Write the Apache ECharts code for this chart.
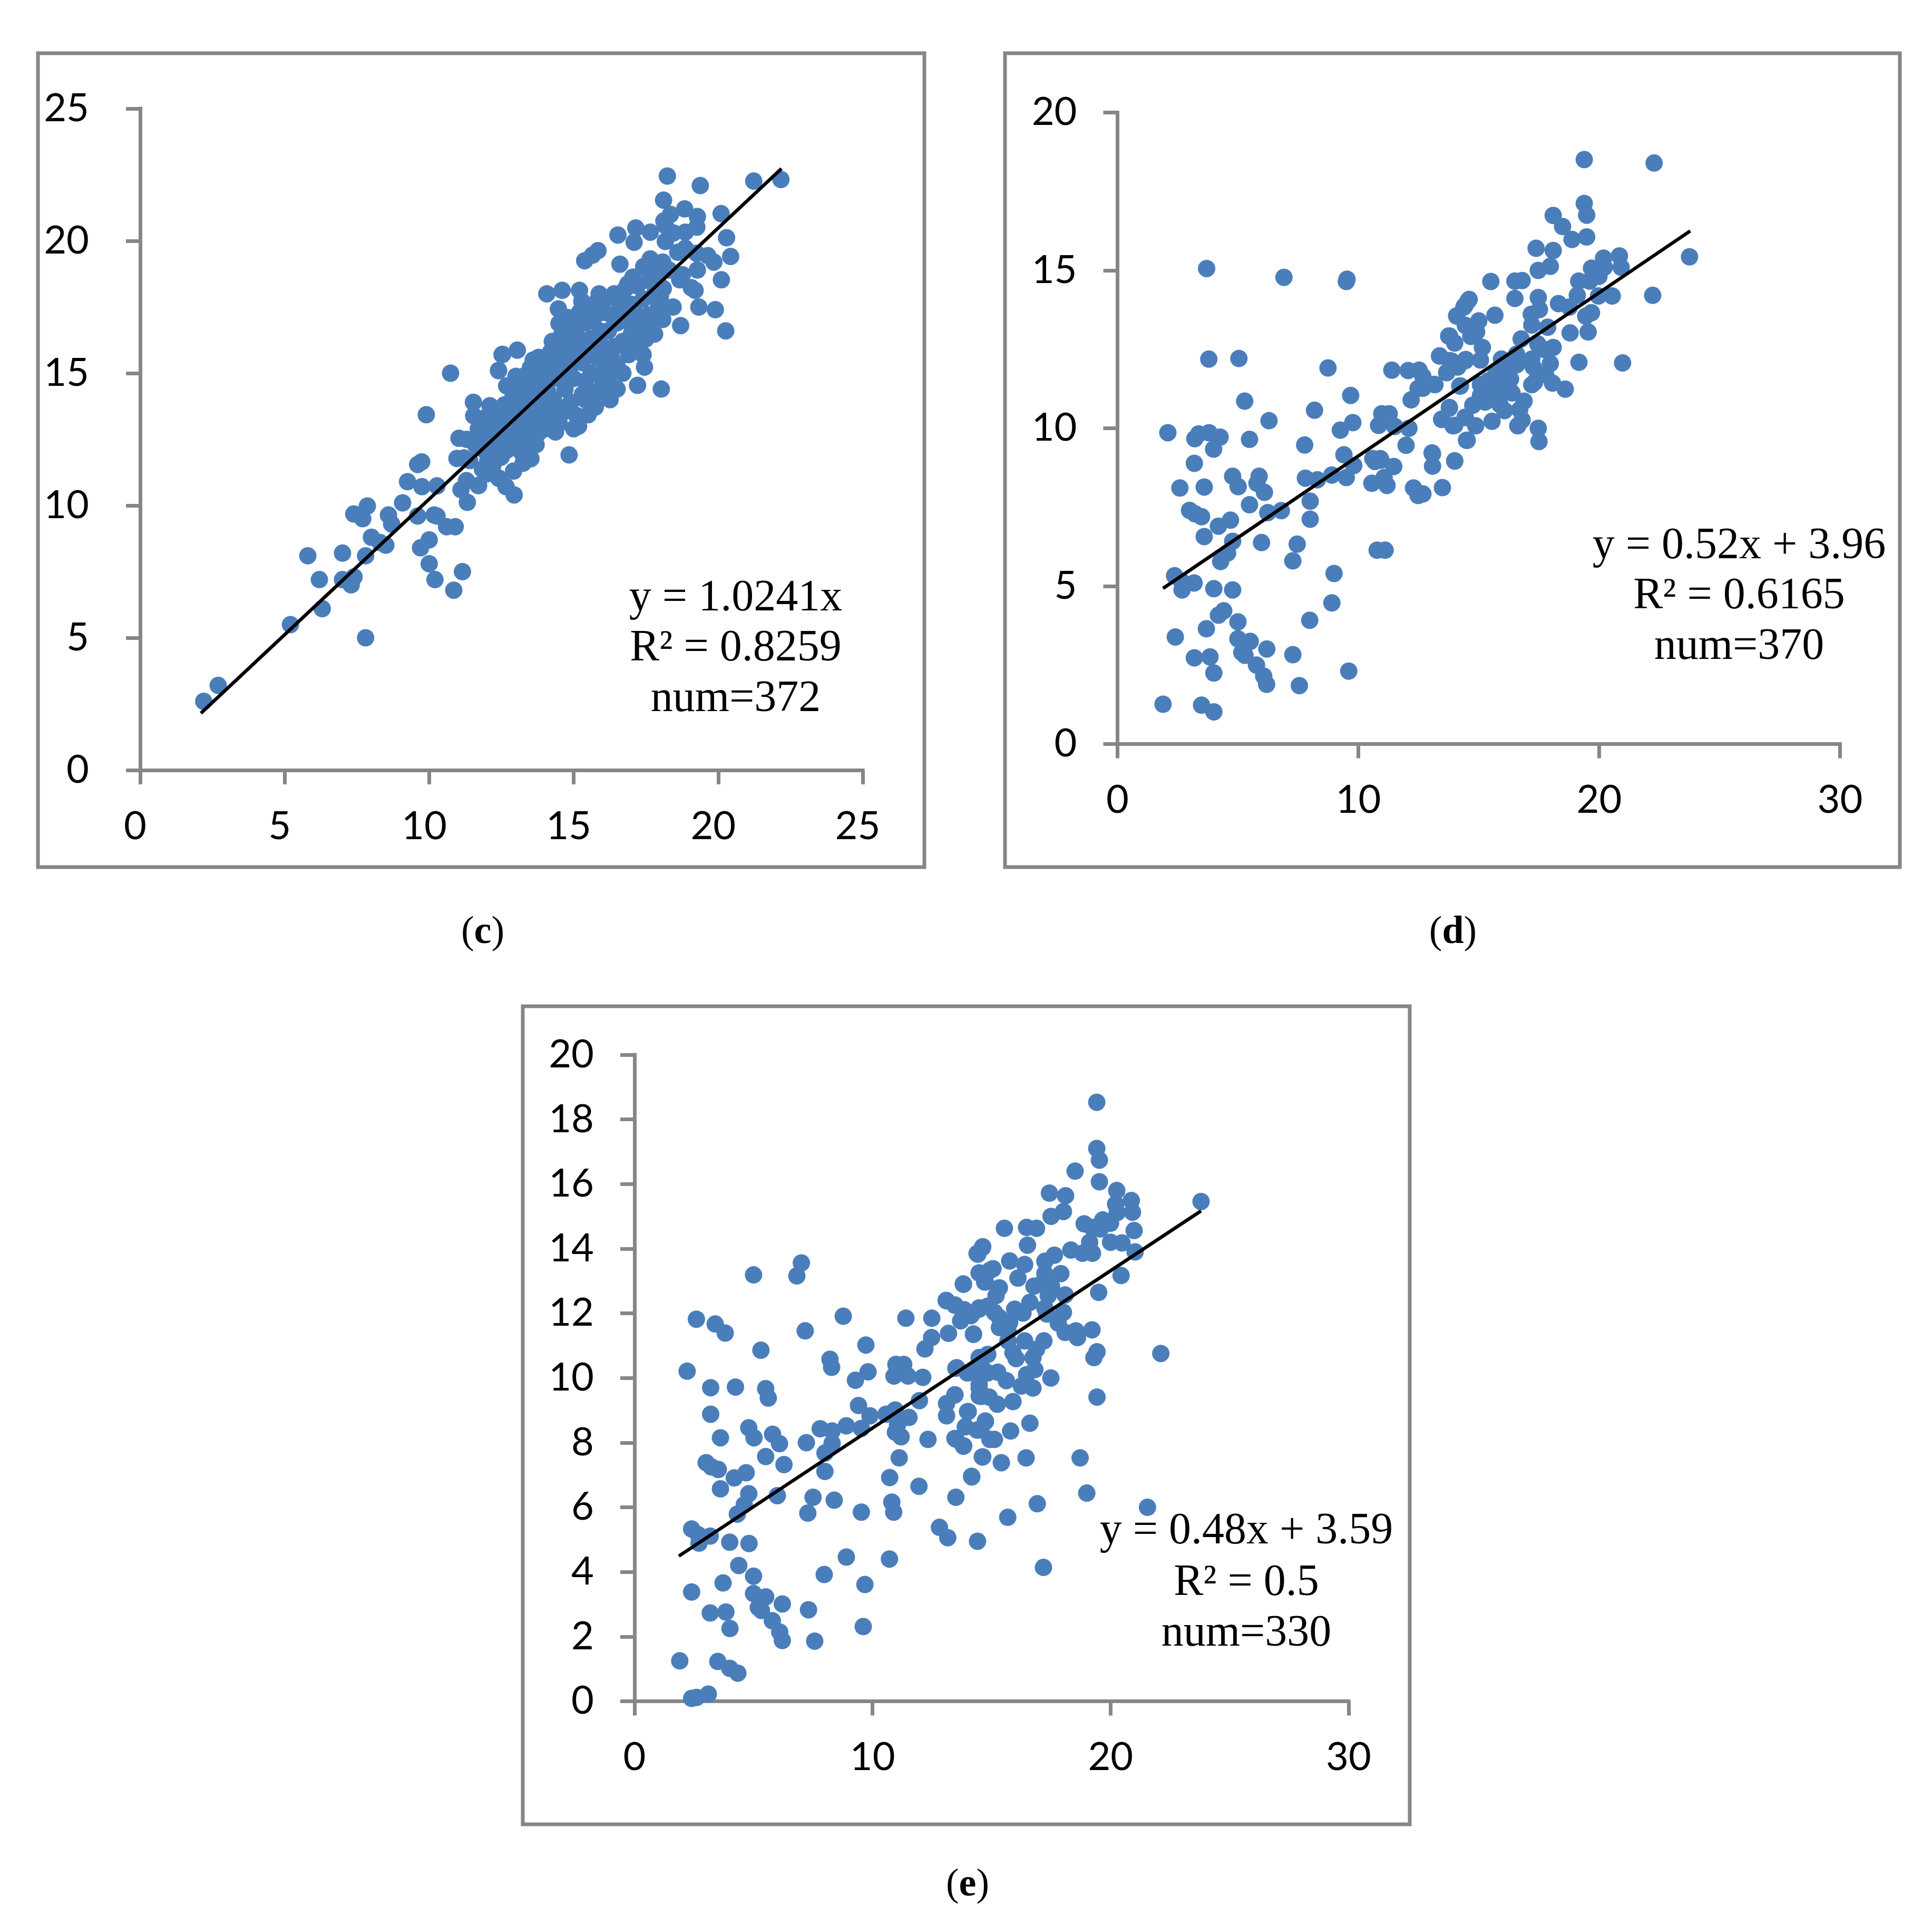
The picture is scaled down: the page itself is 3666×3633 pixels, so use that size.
<!DOCTYPE html>
<html><head><meta charset="utf-8">
<style>html,body{margin:0;padding:0;background:#fff}#chart{width:3666px;height:3633px}</style>
<script src="https://cdn.jsdelivr.net/npm/echarts@6/dist/echarts.min.js"></script>
</head><body><div id="chart"></div>
<script>
const xTicksC=[0,5,10,15,20,25];
const yTicksC=[0,5,10,15,20,25];
const xTicksD=[0,10,20,30];
const yTicksD=[0,5,10,15,20];
const xTicksE=[0,10,20,30];
const yTicksE=[0,2,4,6,8,10,12,14,16,18,20];
const trendC=[[2.1,2.15],[22.19,22.73]];
const trendD=[[1.89,4.93],[23.78,16.25]];
const trendE=[[1.86,4.49],[23.8,15.17]];
const notesC=["y = 1.0241x","R² = 0.8259","num=372"];
const notesD=["y = 0.52x + 3.96","R² = 0.6165","num=370"];
const notesE=["y = 0.48x + 3.59","R² = 0.5","num=330"];
const pointsC=[[2.2,2.6],[2.7,3.2],[5.2,5.5],[5.8,8.1],[6.2,7.2],[6.3,6.1],[7.0,8.2],[7.0,7.2],[7.3,7.0],[7.4,7.3],[7.39,9.68],[7.86,9.98],[7.7,9.5],[7.8,8.1],[7.8,5.0],[8.0,8.8],[8.3,8.6],[8.5,8.5],[8.59,9.64],[8.7,9.3],[9.08,10.1],[9.25,10.9],[9.7,8.4],[9.74,11.65],[9.6,11.55],[9.6,9.6],[9.75,10.71],[10.0,8.7],[10.0,7.8],[9.9,13.43],[10.2,7.2],[10.27,9.6],[10.27,10.74],[10.6,9.2],[10.17,9.64],[10.9,9.2],[10.74,15.0],[10.85,6.8],[11.15,7.5],[11.1,10.6],[10.96,11.78],[11.03,12.54],[11.29,10.94],[11.32,10.12],[11.71,10.76],[11.53,13.9],[11.54,13.39],[12.1,13.77],[12.52,15.7],[12.4,15.1],[12.42,11.02],
[18.24,22.45],[19.38,22.09],[21.23,22.26],[22.17,22.32],[18.11,21.54],[18.84,21.21],[18.35,21.0],[19.28,20.92],[20.1,21.03],[18.12,20.75],[18.17,20.58],[19.26,20.52],[18.86,20.33],[18.45,20.3],[17.15,20.49],[17.65,20.33],[16.53,20.22],[17.09,19.95],[18.17,19.98],[20.29,20.12],[18.86,19.72],[18.6,19.57],[19.25,19.53],[19.64,19.44],[19.85,19.2],[20.43,19.41],[15.84,19.63],[15.65,19.46],[15.38,19.25],[16.6,19.12],[17.65,19.32],[17.42,19.03],[18.08,19.2],[19.28,18.9],[18.76,18.72],[18.67,18.53],[20.11,18.53],[19.07,18.23],[19.2,18.13],[17.05,18.63],[16.87,18.37],[16.58,18.0],[14.07,18.0],[14.6,18.13],[15.2,18.13],[15.88,18.0],[17.9,18.53],[19.33,17.5],[19.9,17.4],[18.44,17.5],[18.7,16.8],[20.26,16.6],[17.93,17.5],[18.08,17.03],[17.8,16.48],[14.47,17.43],[14.49,16.88],[15.28,17.72],[14.26,16.2],[13.79,15.6],[13.05,15.87],[12.54,15.71],[12.4,15.1],[13.0,14.88],[12.68,14.52],[17.26,15.83],[17.45,15.23],[17.21,14.54],[18.03,14.4],[16.5,15.09],[16.5,14.4],[16.26,14.0],[15.75,13.72],[15.5,13.43],[15.17,13.0],[14.37,12.78],[13.79,12.75],[14.84,11.91],[13.52,11.77],[13.25,11.6],[12.92,11.3],[11.84,11.37],[12.4,11.04],[12.66,10.71],[12.94,10.4],[11.7,10.75],[13.42,12.35],[12.49,11.83],[12.03,11.71],
[11.6,12.3],[11.7,12.9],[11.9,13.3],[11.9,12.1],[12.0,12.6],[12.1,13.1],[12.2,12.3],[12.3,13.5],[12.3,12.8],[12.4,11.9],[12.5,13.1],[12.5,12.4],[12.6,13.8],[12.7,13.3],[12.7,12.1],[12.8,12.7],[12.9,14.1],[12.9,13.5],[13.0,12.2],[13.0,13.0],[13.1,14.4],[13.1,13.7],[13.2,12.8],[13.2,12.0],[13.3,14.9],[13.3,14.1],[13.4,13.3],[13.4,12.7],[13.5,15.2],[13.5,14.5],[13.6,13.8],[13.6,13.0],[13.7,14.9],[13.7,12.3],[13.8,14.2],[13.8,13.4],[13.9,15.5],[13.9,14.7],[14.0,13.9],[14.0,12.9],[14.1,15.1],[14.1,14.3],[14.2,15.8],[14.2,13.4],[14.3,14.8],[14.3,14.0],[14.4,16.1],[14.4,15.3],[14.5,13.7],[14.5,13.1],[14.6,16.5],[14.6,15.0],[14.7,14.4],[14.7,15.7],[14.8,17.1],[14.8,16.3],[14.9,15.3],[14.9,13.9],[15.0,16.8],[15.0,14.8],[15.1,15.9],[15.1,13.4],[15.2,17.3],[15.2,16.3],[15.3,14.2],[15.3,15.4],[15.4,16.9],[15.4,14.7],[15.5,17.5],[15.5,15.9],[15.6,16.3],[15.6,15.0],[15.7,17.1],[15.7,14.3],[15.8,17.7],[15.8,15.6],[15.9,16.6],[15.9,14.9],[16.0,17.3],[16.0,16.0],[16.1,15.3],[16.1,17.8],[16.2,16.6],[16.2,14.7],[16.3,17.2],[16.3,15.6],[16.4,16.0],[16.4,18.0],[16.5,16.9],[16.5,15.3],[16.6,17.5],[16.7,16.2],[16.7,15.0],[16.8,17.0],[16.8,18.2],[16.9,15.7],[17.0,16.5],[17.0,17.6],[17.1,16.0],[17.2,17.2],[17.2,18.3],[17.3,16.7],[17.4,15.7],[17.4,17.8],[17.5,16.3],[17.6,18.5],[17.6,17.2],[17.7,16.9],[17.8,18.0],[17.9,19.0],[18.0,17.9],[18.1,18.2],[18.3,18.9],[12.0,11.2],[12.2,11.5],[11.4,11.7],[11.3,12.5],[11.2,11.8],[14.2,12.9],[14.6,13.5],[15.0,12.9],[15.4,14.0],[13.3,13.5],[16.0,14.3],[14.0,14.7],[12.8,13.9],[13.6,15.5]];
const pointsD=[[3.7,15.06],[6.91,14.78],[9.53,14.72],[9.5,14.65],[3.79,12.19],[5.04,12.21],[8.74,11.91],[11.39,11.84],[12.07,11.83],[12.52,11.84],[13.38,12.29],[13.8,12.14],[14.46,12.18],[13.67,11.76],[13.16,11.39],[12.48,11.26],[12.19,10.9],[14.24,11.34],[9.68,11.04],[5.28,10.86],[8.18,10.57],[6.29,10.24],[9.77,10.18],[9.25,9.94],[2.09,9.86],[3.21,9.67],[3.37,9.82],[3.8,9.86],[4.26,9.72],[5.48,9.65],[3.99,9.34],[7.77,9.47],[10.97,10.46],[11.28,10.46],[10.84,10.09],[11.51,10.06],[12.1,10.0],[13.78,10.64],[13.46,10.29],[14.0,10.09],[14.43,10.35],[11.98,9.46],[13.08,9.19],[14.49,9.62],[9.4,9.16],[14.0,8.97],[10.6,9.04],[10.91,9.04],[14.1,13.55],[14.43,13.89],[14.6,14.08],[13.75,12.92],[14.0,12.7],[14.46,13.25],
[19.38,18.51],[22.28,18.4],[19.38,17.12],[19.48,16.75],[18.09,16.74],[18.48,16.39],[18.87,15.98],[19.48,16.06],[17.38,15.7],[18.09,15.63],[20.84,15.46],[20.18,15.39],[23.75,15.43],[20.91,15.1],[19.68,15.07],[20.21,15.1],[17.97,15.13],[17.47,15.0],[19.99,14.81],[19.6,14.66],[19.15,14.66],[15.5,14.65],[16.5,14.66],[16.8,14.68],[16.5,14.11],[17.47,14.14],[19.09,14.21],[18.31,13.95],[19.97,14.19],[20.54,14.19],[22.22,14.21],[14.56,14.04],[14.38,13.84],[14.08,13.56],[15.67,13.58],[15.0,13.4],[14.44,13.26],[17.52,13.76],[17.18,13.61],[17.2,13.27],[18.76,13.84],[19.68,13.66],[19.44,13.55],[14.91,13.05],[14.67,12.91],[13.79,12.92],[17.86,13.2],[18.79,13.02],[19.54,13.05],[16.76,12.83],[15.15,12.56],[18.09,12.56],[17.45,12.67],[17.7,12.5],[13.37,12.29],[13.87,12.13],[14.44,12.14],[15.07,12.16],[19.16,12.09],[20.97,12.07],[15.94,12.19],[16.57,12.35],[17.2,12.19],[17.97,12.05],[17.26,11.94],[16.57,12.01],[16.14,11.94],[14.13,11.94],[13.67,11.77],[15.7,11.71],[16.32,11.56],[17.77,11.71],[17.32,11.46],[17.2,11.38],[18.06,11.43],[18.59,11.24],[13.18,11.38],[14.21,11.34],[15.07,11.38],[15.7,11.19],[16.38,11.12],[15.07,11.04],[16.88,10.86],[15.26,10.83],[15.88,10.75],[14.75,10.73],[16.7,10.59],[16.07,10.56],[13.78,10.66],[13.46,10.28],[14.44,10.34],[13.93,10.08],[14.87,10.08],[15.55,10.22],[16.8,10.26],[16.62,10.08],[17.47,10.0],[17.5,9.58],[14.52,9.62],[13.06,9.22],[13.08,8.8],[14.0,8.96],[13.49,8.12],[12.68,11.64],[12.68,11.27],[12.68,7.92],[15.4,11.5],[15.5,11.0],[15.9,11.4],[16.1,11.2],[15.3,11.2],
[2.59,8.11],[3.19,8.89],[3.6,8.14],[4.78,8.48],[5.88,8.48],[5.01,8.15],[5.79,8.26],[6.1,7.97],[7.8,8.42],[8.3,8.37],[8.9,8.52],[9.5,8.44],[9.81,8.82],[10.69,8.95],[10.94,8.99],[11.47,8.79],[10.56,8.26],[11.07,8.44],[11.19,8.19],[12.29,8.11],[12.48,7.87],[5.48,7.58],[8.0,7.69],[6.24,7.33],[6.8,7.39],[2.99,7.4],[3.22,7.29],[3.49,7.2],[8.0,7.12],[4.69,7.09],[4.19,6.9],[3.6,6.57],[4.78,6.42],[5.98,6.38],[7.46,6.33],[4.57,6.05],[4.28,5.78],[7.28,5.8],[10.78,6.14],[11.11,6.14],[8.99,5.4],[2.37,5.33],[2.65,5.16],[3.18,5.1],[2.68,4.88],[4.0,4.92],[4.78,4.88],[8.9,4.47],[4.41,4.22],[4.19,4.08],[5.0,3.87],[7.98,3.92],[3.69,3.65],[2.4,3.39],[5.0,3.33],[5.51,3.25],[6.2,3.01],[7.28,2.83],[5.16,2.9],[5.29,2.81],[3.19,2.73],[3.84,2.76],[5.77,2.5],[4.0,2.25],[9.6,2.31],[6.07,2.15],[6.19,1.89],[7.55,1.85],[1.89,1.26],[3.49,1.23],[4.0,1.02]];
const pointsE=[[5.0,13.19],[7.01,13.56],[6.82,13.16],[2.6,11.82],[3.39,11.67],[3.81,11.39],[7.17,11.46],[8.77,11.91],[11.4,11.85],[12.49,11.85],[13.09,12.4],[13.46,12.25],[13.8,12.08],[14.48,12.17],[14.17,11.97],[13.7,11.77],[13.19,11.38],[12.48,11.25],[12.2,10.9],[14.24,11.36],[13.82,12.9],[14.42,13.83],[14.61,14.03],[14.48,13.25],[14.74,12.97],[14.93,13.33],[5.31,10.86],[9.72,11.02],[2.21,10.21],[3.2,9.7],[4.24,9.72],[5.51,9.67],[5.62,9.38],[8.21,10.58],[8.28,10.33],[9.81,10.19],[9.28,9.93],[10.98,10.42],[11.31,10.42],[10.9,10.06],[11.49,10.06],[12.11,10.02],[13.5,10.3],[13.98,10.16],[14.48,10.63],[14.74,10.21],[14.48,9.8],[14.48,9.44],[3.2,8.88],[9.41,9.15],[11.97,9.3],[13.46,9.48],[13.11,9.21],[13.11,8.83],[13.99,8.96],[14.74,8.65],[9.89,8.83],[10.57,8.88],[10.95,9.01],[11.53,8.78],[11.05,8.55],[8.9,8.52],[9.53,8.44],[7.8,8.43],[8.3,8.36],[4.8,8.46],[5.02,8.15],[5.8,8.26],[6.09,7.97],[3.61,8.15],[7.22,8.0],[8.3,7.98],[10.96,8.32],[11.2,8.18],[12.33,8.1],[13.5,8.11],[13.83,7.9],[13.9,8.49],[14.55,8.39],[14.93,8.1],[8.0,7.68],[5.51,7.57],[6.28,7.32],[11.12,7.53],[14.61,7.56],[3.01,7.38],[3.23,7.25],[3.52,7.17],[8.0,7.11],[4.69,7.07],[4.19,6.91],[10.72,6.92],[14.17,6.94],[11.95,6.65],[3.61,6.57],[4.8,6.42],[6.0,6.36],[7.5,6.31],[8.39,6.22],[13.5,6.31],[4.61,6.08],[10.81,6.16],[10.89,5.85],[7.28,5.82],[9.53,5.85],[4.32,5.79],[12.81,5.38],
[16.92,6.11],[15.68,5.69],[13.16,5.06],[14.41,4.95],[17.18,4.14],[10.71,4.4],[8.9,4.46],[7.97,3.92],[9.68,3.61],[2.4,5.33],[2.68,5.15],[3.18,5.11],[2.71,4.89],[4.0,4.92],[4.81,4.88],[4.38,4.2],[5.0,3.87],[3.72,3.66],[2.4,3.38],[5.0,3.33],[5.51,3.23],[6.21,3.01],[7.31,2.83],[5.2,2.9],[5.33,2.81],[3.18,2.73],[3.84,2.76],[5.79,2.49],[4.01,2.25],[9.61,2.31],[6.1,2.14],[6.21,1.88],[7.57,1.86],[1.9,1.25],[3.5,1.23],[4.0,1.02],[4.34,0.87],[2.4,0.09],[2.61,0.12],[3.1,0.22],
[19.42,18.53],[19.42,17.1],[19.53,16.74],[18.51,16.4],[19.53,16.07],[20.26,15.8],[17.43,15.72],[18.11,15.64],[20.87,15.49],[20.21,15.38],[23.8,15.46],[20.92,15.13],[20.28,15.12],[18.02,15.15],[17.5,15.0],[19.67,14.89],[20.0,14.79],[19.57,14.61],[18.89,14.77],[19.22,14.66],[16.47,14.66],[16.89,14.63],[15.54,14.63],[16.51,14.11],[20.99,14.56],[19.12,14.2],[20.0,14.2],[20.48,14.18],[18.33,13.96],[18.82,13.86],[19.24,13.86],[21.03,13.9],[14.63,14.06],[14.39,13.85],[17.64,13.8],[15.76,13.62],[16.39,13.51],[17.24,13.61],[14.48,13.25],[15.06,13.38],[16.11,13.09],[17.24,13.23],[17.91,13.23],[20.44,13.17],[14.71,12.97],[13.81,12.91],[15.33,12.79],[16.78,12.84],[17.17,12.97],[17.52,12.84],[19.5,12.65],[15.19,12.55],[17.38,12.55],[18.09,12.57],[13.11,12.39],[13.46,12.26],[16.61,12.34],[13.85,12.11],[14.48,12.13],[14.84,12.22],[15.97,12.13],[17.24,12.16],[18.02,12.03],[15.12,12.03],[16.32,12.01],[14.13,11.93],[17.32,11.98],[15.33,11.87],[17.8,11.7],[15.76,11.72],[15.33,11.56],[15.69,11.46],[18.09,11.41],[18.54,11.46],[19.22,11.49],[18.61,11.25],[14.24,11.35],[15.69,11.15],[16.39,11.15],[17.2,11.15],[19.43,10.81],[19.3,10.63],[22.11,10.76],[16.89,10.89],[15.9,10.78],[16.03,10.6],[16.74,10.63],[14.84,10.73],[14.48,10.63],[13.54,10.32],[16.82,10.26],[16.47,10.1],[14.42,10.26],[14.0,10.16],[14.84,10.16],[15.26,10.18],[15.62,9.92],[17.49,10.0],[16.25,9.75],[16.74,9.69],[14.48,9.69],[13.46,9.48],[14.56,9.43],[14.9,9.41],[19.43,9.41],[15.24,9.19],[15.9,9.27],[14.02,8.96],[14.74,8.67],[13.9,8.49],[14.39,8.39],[16.61,8.6],[15.8,8.36],[13.46,8.13],[13.82,7.89],[15.12,8.1],[14.63,7.56],[15.41,7.38],[16.45,7.53],[18.72,7.53],[14.16,6.96],[19.0,6.44],[21.55,6.0]];

const GREY='#868686', BLUE='#4a7ebb';
const SANS='Lato', SERIF='"Liberation Serif"';
const panels=[
 {g:{left:266,top:206,width:1371,height:1255},xT:xTicksC,yT:yTicksC,xMax:25,yMax:25,yI:5,pts:pointsC,line:trendC,yMargin:97,xPad:[0,19,0,0]},
 {g:{left:2120.5,top:213.5,width:1371,height:1198},xT:xTicksD,yT:yTicksD,xMax:30,yMax:20,yI:5,pts:pointsD,line:trendD,yMargin:77,xPad:[0,0,0,0]},
 {g:{left:1204,top:2001,width:1355,height:1226.5},xT:xTicksE,yT:yTicksE,xMax:30,yMax:20,yI:2,pts:pointsE,line:trendE,yMargin:77,xPad:[0,0,0,0]}
];
const axisBits=()=>({axisLine:{onZero:true,lineStyle:{color:GREY,width:7,cap:'square'}},axisTick:{length:27,lineStyle:{color:GREY,width:7}},splitLine:{show:false}});
const option={animation:false,backgroundColor:'#fff',grid:[],xAxis:[],yAxis:[],series:[],graphic:[]};
panels.forEach((p,i)=>{
 option.grid.push(p.g);
 option.xAxis.push({type:'value',gridIndex:i,min:0,max:p.xMax,interval:p.xT[1]-p.xT[0],...axisBits(),
   axisLabel:{color:'#000',fontFamily:SANS,fontSize:74,margin:70,padding:p.xPad,showMinLabel:true,showMaxLabel:true,hideOverlap:false}});
 option.yAxis.push({type:'value',gridIndex:i,min:0,max:p.yMax,interval:p.yI,...axisBits(),
   axisLabel:{color:'#000',fontFamily:SANS,fontSize:74,margin:p.yMargin,showMinLabel:true,showMaxLabel:true,hideOverlap:false}});
 option.series.push({type:'scatter',xAxisIndex:i,yAxisIndex:i,data:p.pts,symbol:'circle',symbolSize:33,itemStyle:{color:BLUE,opacity:1},silent:true,z:2,large:false});
 option.series.push({type:'line',xAxisIndex:i,yAxisIndex:i,data:p.line,symbol:'none',lineStyle:{color:'#000',width:6.5},silent:true,z:3});
});
const frame=(x1,y1,x2,y2)=>({type:'rect',z:0,silent:true,shape:{x:x1,y:y1,width:x2-x1,height:y2-y1},style:{fill:'none',stroke:GREY,lineWidth:7}});
const note=(t,cx,cy)=>({type:'text',z:10,silent:true,x:cx,y:cy,style:{text:t,fill:'#000',font:'84px '+SERIF,align:'center',verticalAlign:'middle'}});
const caption=(t,cx,cy)=>({type:'text',z:10,silent:true,x:cx,y:cy,style:{text:'{r|(}{b|'+t+'}{r|)}',align:'center',verticalAlign:'middle',rich:{
  r:{fontFamily:SERIF,fontSize:74,fill:'#000'},b:{fontFamily:SERIF,fontSize:74,fontWeight:'bold',fill:'#000'}}}});
option.graphic=[frame(72,101,1754,1645),frame(1907,101,3605,1645),frame(992,1909,2675,3461),
 note(notesC[0],1396,1136),note(notesC[1],1396,1231),note(notesC[2],1396,1327),
 note(notesD[0],3300,1037),note(notesD[1],3300,1132),note(notesD[2],3300,1228),
 note(notesE[0],2365,2906),note(notesE[1],2365,3004),note(notesE[2],2365,3100),
 caption('c',916,1770),caption('d',2757,1770),caption('e',1836,3577)];
echarts.init(document.getElementById('chart'),null,{renderer:'canvas'}).setOption(option);
</script></body></html>
